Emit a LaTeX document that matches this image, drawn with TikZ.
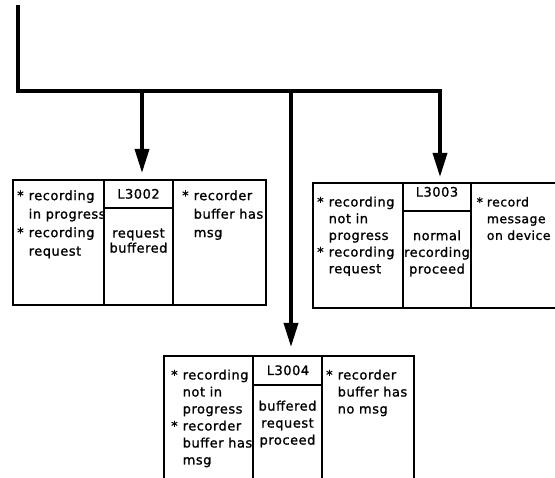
\documentclass[tikz,border=0pt]{standalone}
\usepackage{fontspec}
\setmainfont{DejaVu Sans}[LetterSpace=4, FakeBold=1.2]
\usetikzlibrary{arrows.meta}

\tikzset{
  bus/.style={line width=3.4pt, line join=miter},
  feed/.style={line width=3.4pt, -{Triangle[length=24pt,width=14pt]}},
  frame/.style={draw, line width=2pt, inner sep=0pt, anchor=north west},
  divider/.style={line width=1.6pt},
  txt/.style={inner sep=0pt, font=\fontsize{13}{#1}\selectfont},
  list/.style={txt=#1, anchor=north west},
  mid/.style={txt=#1, anchor=north},
  head/.style={inner sep=0pt, anchor=base, font=\fontsize{13}{15}\selectfont}
}

\begin{document}
\begin{tikzpicture}[x=1pt,y=-1pt]
\useasboundingbox (0,0) rectangle (555,478);

% ---------- box A : recording in progress ----------
\node[frame, minimum width=253pt, minimum height=125pt] (A) at (12,179) {};
\draw[divider] (104,0 |- A.north) -- (104,0 |- A.south);
\draw[divider] (173,0 |- A.north) -- (173,0 |- A.south);
\draw[divider] (104,208) -- (173,208);
\node[head] (Ahead) at (138.5,198.6) {L3002};
\node[list=18.5] (Acond) at (17,187)
  {\begin{tabular}{@{}l@{\hspace{5pt}}l@{}}{*}&recording\\&in progress\\{*}&recording\\&request\end{tabular}};
\node[mid=15] (Aact) at (138.5,226.9)
  {\begin{tabular}{@{}c@{}}request\\buffered\end{tabular}};
\node[list=18.5] (Ares) at (182,187)
  {\begin{tabular}{@{}l@{\hspace{5pt}}l@{}}{*}&recorder\\&buffer has\\&msg\end{tabular}};

% ---------- box B : recording not in progress ----------
\node[frame, minimum width=246pt, minimum height=125pt] (B) at (312,182) {};
\draw[divider] (403,0 |- B.north) -- (403,0 |- B.south);
\draw[divider] (471,0 |- B.north) -- (471,0 |- B.south);
\draw[divider] (403,211) -- (471,211);
\node[head] (Bhead) at (437,196.6) {L3003};
\node[list=16.7] (Bcond) at (317,194.6)
  {\begin{tabular}{@{}l@{\hspace{5pt}}l@{}}{*}&recording\\&not in\\&progress\\{*}&recording\\&request\end{tabular}};
\node[mid=16.7] (Bact) at (437,228.3)
  {\begin{tabular}{@{}c@{}}normal\\recording\\proceed\end{tabular}};
\node[list=16.7, font=\fontsize{12.4}{16.7}\selectfont] (Bres) at (476.5,194.6)
  {\begin{tabular}{@{}l@{\hspace{4pt}}l@{}}{*}&record\\&message\\&on device\end{tabular}};

% ---------- box C : buffered request ----------
\node[frame, minimum width=250pt, minimum height=130pt] (C) at (163,355) {};
\draw[divider] (253,0 |- C.north) -- (253,0 |- C.south);
\draw[divider] (322,0 |- C.north) -- (322,0 |- C.south);
\draw[divider] (253,385) -- (322,385);
\node[head] (Chead) at (288,375) {L3004};
\node[list=17] (Ccond) at (171,367.4)
  {\begin{tabular}{@{}l@{\hspace{5pt}}l@{}}{*}&recording\\&not in\\&progress\\{*}&recorder\\&buffer has\\&msg\end{tabular}};
\node[mid=17] (Cact) at (287.5,398.5)
  {\begin{tabular}{@{}c@{}}buffered\\request\\proceed\end{tabular}};
\node[list=17] (Cres) at (326,367.4)
  {\begin{tabular}{@{}l@{\hspace{5pt}}l@{}}{*}&recorder\\&buffer has\\&no msg\end{tabular}};

% ---------- distribution bus and feeds ----------
\coordinate (src) at (18,5);
\coordinate (corner) at (18,91);
\coordinate (ja) at (142,91);
\coordinate (jc) at (291,91);
\coordinate (jb) at (440,91);

\draw[bus, feed, shorten >=5pt] (src) -- (corner) -- (jb) -- (jb |- B.north);
\draw[feed, shorten >=6pt] (ja) -- (ja |- A.north);
\draw[feed, shorten >=8pt] (jc) -- (jc |- C.north);
\end{tikzpicture}
\end{document}
